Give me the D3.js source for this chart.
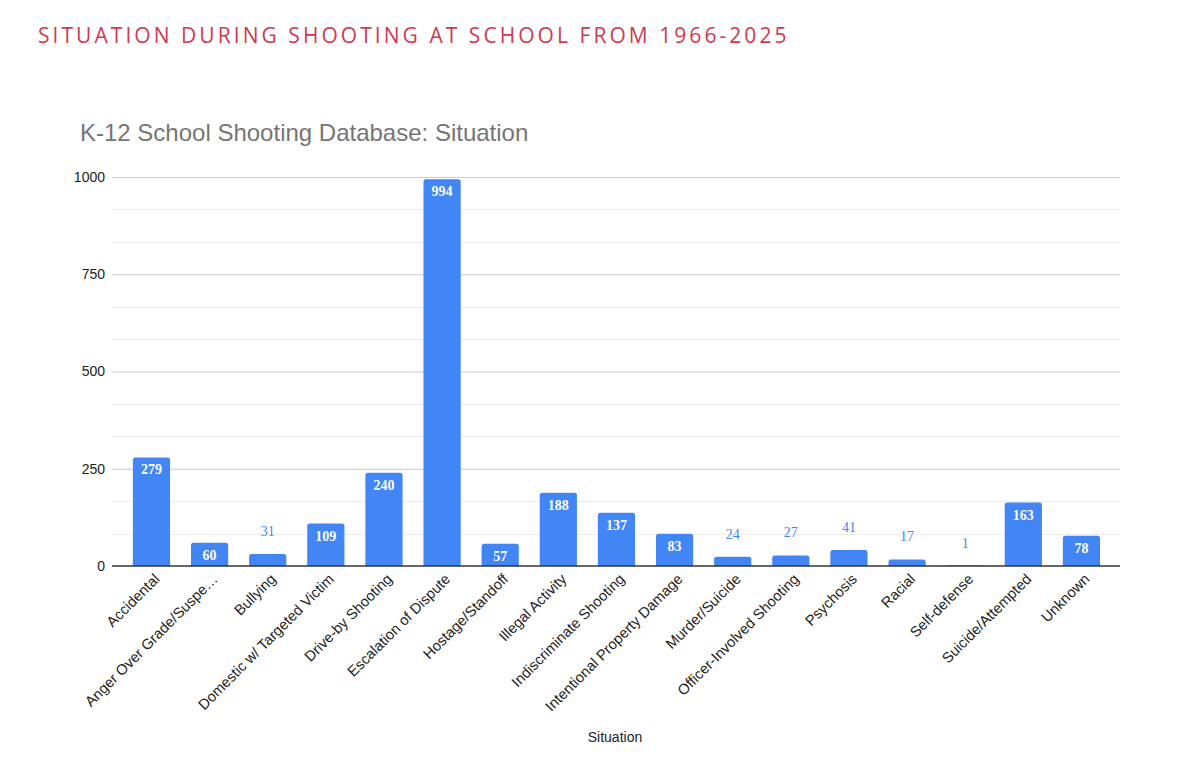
<!DOCTYPE html>
<html>
<head>
<meta charset="utf-8">
<script src="https://cdn.jsdelivr.net/npm/d3@7"></script>
<style>
  body { margin: 0; background: #fff; }
  svg { display: block; }
</style>
</head>
<body>
<div id="chart"></div>
<script>
// Data
var situations = [
  "Accidental", "Anger Over Grade/Suspe\u2026", "Bullying", "Domestic w/ Targeted Victim",
  "Drive-by Shooting", "Escalation of Dispute", "Hostage/Standoff", "Illegal Activity",
  "Indiscriminate Shooting", "Intentional Property Damage", "Murder/Suicide",
  "Officer-Involved Shooting", "Psychosis", "Racial", "Self-defense",
  "Suicide/Attempted", "Unknown"
];
var counts = [279, 60, 31, 109, 240, 994, 57, 188, 137, 83, 24, 27, 41, 17, 1, 163, 78];
var majorTicks = [0, 250, 500, 750, 1000];
var minorTicks = [83.33, 166.67, 333.33, 416.67, 583.33, 666.67, 833.33, 916.67];

var data = situations.map(function(s, i) { return { name: s, value: counts[i] }; });

var W = 1177, H = 765;
var blue = "#4285f4";
var sans = "Arial, 'Liberation Sans', sans-serif";

var svg = d3.select("#chart").append("svg")
  .attr("width", W)
  .attr("height", H);

// page heading
svg.append("text")
  .attr("x", 38)
  .attr("y", 43)
  .attr("font-family", "'Open Sans', sans-serif")
  .attr("font-size", 21)
  .attr("letter-spacing", 3.05)
  .attr("fill", "#d0394f")
  .text("SITUATION DURING SHOOTING AT SCHOOL FROM 1966-2025");

// chart title
svg.append("text")
  .attr("x", 80)
  .attr("y", 141)
  .attr("font-family", sans)
  .attr("font-size", 24)
  .attr("fill", "#757575")
  .text("K-12 School Shooting Database: Situation");

var xScale = d3.scaleBand()
  .domain(situations)
  .range([122.4, 1110.5])
  .paddingInner(0.36)
  .paddingOuter(0.18);

var yScale = d3.scaleLinear()
  .domain([0, 1000])
  .range([566, 177]);

var gridX0 = 112, gridX1 = 1120;

// minor gridlines
svg.append("g").selectAll("line")
  .data(minorTicks)
  .enter().append("line")
  .attr("x1", gridX0).attr("x2", gridX1)
  .attr("y1", function(d) { return Math.round(yScale(d)) + 0.5; })
  .attr("y2", function(d) { return Math.round(yScale(d)) + 0.5; })
  .attr("stroke", "#ebebeb");

// y axis with major gridlines
var yAxis = d3.axisLeft(yScale)
  .tickValues(majorTicks)
  .tickFormat(d3.format("d"))
  .tickSize(-(gridX1 - gridX0))
  .tickPadding(7);

var yg = svg.append("g")
  .attr("transform", "translate(" + gridX0 + ",0)")
  .call(yAxis);
yg.select(".domain").remove();
yg.selectAll(".tick line").attr("stroke", "#cccccc");
yg.selectAll(".tick line").filter(function(d) { return d === 0; }).remove();
yg.selectAll(".tick text")
  .attr("font-family", sans)
  .attr("font-size", 14)
  .attr("fill", "#222");

// bars, slightly rounded on top
svg.append("g").selectAll("path")
  .data(data)
  .enter().append("path")
  .attr("fill", blue)
  .attr("d", function(d) {
    var x = xScale(d.name), w = xScale.bandwidth();
    var y = yScale(d.value), h = yScale(0) - y;
    var r = Math.min(2.5, h / 2);
    return "M" + x + "," + yScale(0) +
      "V" + (y + r) +
      "Q" + x + "," + y + " " + (x + r) + "," + y +
      "H" + (x + w - r) +
      "Q" + (x + w) + "," + y + " " + (x + w) + "," + (y + r) +
      "V" + yScale(0) + "Z";
  });

// baseline
svg.append("line")
  .attr("x1", gridX0).attr("x2", gridX1)
  .attr("y1", yScale(0)).attr("y2", yScale(0))
  .attr("stroke", "#333")
  .attr("stroke-width", 1.3);

// data labels: inside tall bars, above short ones
function inside(d) { return (yScale(0) - yScale(d.value)) > 20; }

svg.append("g").selectAll("text")
  .data(data)
  .enter().append("text")
  .attr("x", function(d) { return xScale(d.name) + xScale.bandwidth() / 2; })
  .attr("y", function(d) { return inside(d) ? yScale(d.value) + 17 : yScale(d.value) - 18; })
  .attr("text-anchor", "middle")
  .attr("font-family", "'Liberation Serif', 'Times New Roman', serif")
  .attr("font-size", 14)
  .attr("font-weight", function(d) { return inside(d) ? "bold" : "normal"; })
  .attr("fill", function(d) { return inside(d) ? "#fff" : blue; })
  .text(function(d) { return d.value; });

// x axis labels
var xAxis = d3.axisBottom(xScale).tickSize(0).tickPadding(0);
var xg = svg.append("g")
  .attr("transform", "translate(0," + yScale(0) + ")")
  .call(xAxis);
xg.select(".domain").remove();
xg.selectAll(".tick text")
  .attr("font-family", sans)
  .attr("font-size", 14.7)
  .attr("fill", "#222")
  .attr("text-anchor", "end")
  .attr("dy", 0)
  .attr("transform", "translate(9,14) rotate(-45)");

// axis title
svg.append("text")
  .attr("x", 615)
  .attr("y", 742)
  .attr("text-anchor", "middle")
  .attr("font-family", sans)
  .attr("font-size", 14)
  .attr("fill", "#222")
  .text("Situation");
</script>
</body>
</html>
